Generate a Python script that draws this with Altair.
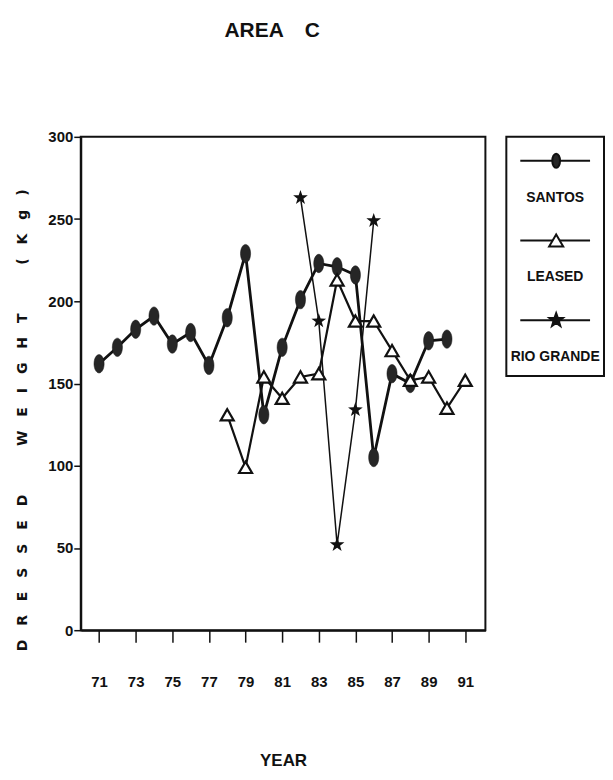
import altair as alt
import pandas as pd

# ---- data ----
santos_years = list(range(71, 91))
santos_vals = [162, 172, 183, 191, 174, 181, 161, 190, 229, 131,
               172, 201, 223, 221, 216, 105, 156, 150, 176, 177]
leased_years = list(range(78, 92))
leased_vals = [131, 99, 154, 141, 154, 156, 213, 188, 188, 170,
               152, 154, 135, 152]
rio_years = [82, 83, 84, 85, 86]
rio_vals = [263, 188, 52, 134, 249]
series_names = ["SANTOS", "LEASED", "RIO GRANDE"]
x_tick_values = list(range(71, 92))
y_tick_values = [0, 50, 100, 150, 200, 250, 300]

INK = "#111111"
LBL = "Liberation Sans, Arial, sans-serif"
ELLIPSE = "M0,-1 A0.55,1 0 1,1 0,1 A0.55,1 0 1,1 0,-1 Z"
STAR = ("M0,-1 L0.235,-0.324 L0.951,-0.309 L0.380,0.124 L0.588,0.809 "
        "L0,0.4 L-0.588,0.809 L-0.380,0.124 L-0.951,-0.309 L-0.235,-0.324 Z")

df_s = pd.DataFrame({"year": santos_years, "value": santos_vals})
df_l = pd.DataFrame({"year": leased_years, "value": leased_vals})
df_r = pd.DataFrame({"year": rio_years, "value": rio_vals})

sp = "\u2003"
gap = sp * 3 + "\u2002"
y_title = (sp.join("DRESSED") + gap + sp.join("WEIGHT") + gap + sp.join("(Kg)"))

x_enc = alt.X(
    "year:Q",
    scale=alt.Scale(domain=[70, 92.1], nice=False, zero=False),
    axis=alt.Axis(
        values=x_tick_values, grid=False,
        labelExpr="datum.value % 2 == 1 ? datum.label : ''",
        title="YEAR", titleFont=LBL, titleFontSize=17, titleFontWeight="bold",
        titlePadding=64, labelFont=LBL, labelFontSize=15, labelFontWeight="bold",
        labelPadding=32, tickSize=12, tickWidth=1.5, labelColor=INK, titleColor=INK,
        domainColor=INK, domainWidth=2, tickColor=INK,
    ),
)
y_enc = alt.Y(
    "value:Q",
    scale=alt.Scale(domain=[0, 300], nice=False),
    axis=alt.Axis(
        values=y_tick_values, grid=False, title=y_title, titleFont="DejaVu Sans", titleFontSize=14,
        titleFontWeight="bold", titleAngle=270, titleAlign="center", titleBaseline="middle",
        titleX=-58, titleY=284, labelFont=LBL, labelFontSize=15, labelFontWeight="bold",
        labelPadding=1, tickSize=7, tickWidth=1.5, labelColor=INK, titleColor=INK,
        domainColor=INK, domainWidth=2, tickColor=INK,
    ),
)

santos_line = alt.Chart(df_s).mark_line(color=INK, strokeWidth=2.8).encode(x=x_enc, y=y_enc)
santos_pts = alt.Chart(df_s).mark_point(
    shape=ELLIPSE, size=340, filled=True, fill="#262626", opacity=1, stroke=INK, strokeWidth=0.5
).encode(x="year:Q", y="value:Q")
leased_line = alt.Chart(df_l).mark_line(color=INK, strokeWidth=2.2).encode(x="year:Q", y="value:Q")
leased_pts = alt.Chart(df_l).mark_point(
    shape="triangle-up", size=170, fill="white", filled=False, opacity=1, stroke=INK, strokeWidth=2.2
).encode(x="year:Q", y="value:Q")
rio_line = alt.Chart(df_r).mark_line(color=INK, strokeWidth=1.5).encode(x="year:Q", y="value:Q")
rio_pts = alt.Chart(df_r).mark_point(
    shape=STAR, size=240, filled=True, fill=INK, opacity=1
).encode(x="year:Q", y="value:Q")

main = alt.layer(
    santos_line, leased_line, rio_line, santos_pts, leased_pts, rio_pts
).properties(width=406, height=495)

# ---- legend panel ----
leg_df = pd.DataFrame({"series": series_names, "idx": list(range(len(series_names)))})
leg_y = alt.Y("idx:Q", scale=alt.Scale(domain=[2.5, -0.5], nice=False, zero=False), axis=None)
leg_base = alt.Chart(leg_df)
leg_rule = leg_base.mark_rule(color=INK, strokeWidth=2.2, yOffset=-16).encode(
    x=alt.value(14), x2=alt.value(84), y=leg_y)
leg_pts = leg_base.mark_point(size=200, opacity=1, strokeWidth=2, yOffset=-16).encode(
    x=alt.value(50), y=leg_y,
    shape=alt.Shape("series:N", scale=alt.Scale(domain=series_names,
                                                range=[ELLIPSE, "triangle-up", STAR]), legend=None),
    fill=alt.Fill("series:N", scale=alt.Scale(domain=series_names,
                                              range=["#262626", "white", INK]), legend=None),
    stroke=alt.value(INK),
)
leg_text = leg_base.mark_text(font=LBL, fontSize=14, fontWeight="bold", color=INK,
                              dy=21, baseline="middle").encode(
    x=alt.value(49), y=leg_y, text="series:N")
legend_panel = alt.layer(leg_rule, leg_pts, leg_text).properties(width=98, height=240)

chart = alt.hconcat(main, legend_panel, spacing=19).properties(
    title=alt.TitleParams("AREA\u2002\u2002C", font=LBL, fontSize=21, fontWeight="bold",
                          color=INK, anchor="middle", dx=-38, offset=88),
    padding={"left": 6, "top": 11, "right": 0, "bottom": 0},
).configure_view(stroke=INK, strokeWidth=2).configure_axis(
    domainColor=INK, domainWidth=2, tickColor=INK, grid=False
)

chart.save("out.html", embed_options={"renderer": "svg", "actions": False})
